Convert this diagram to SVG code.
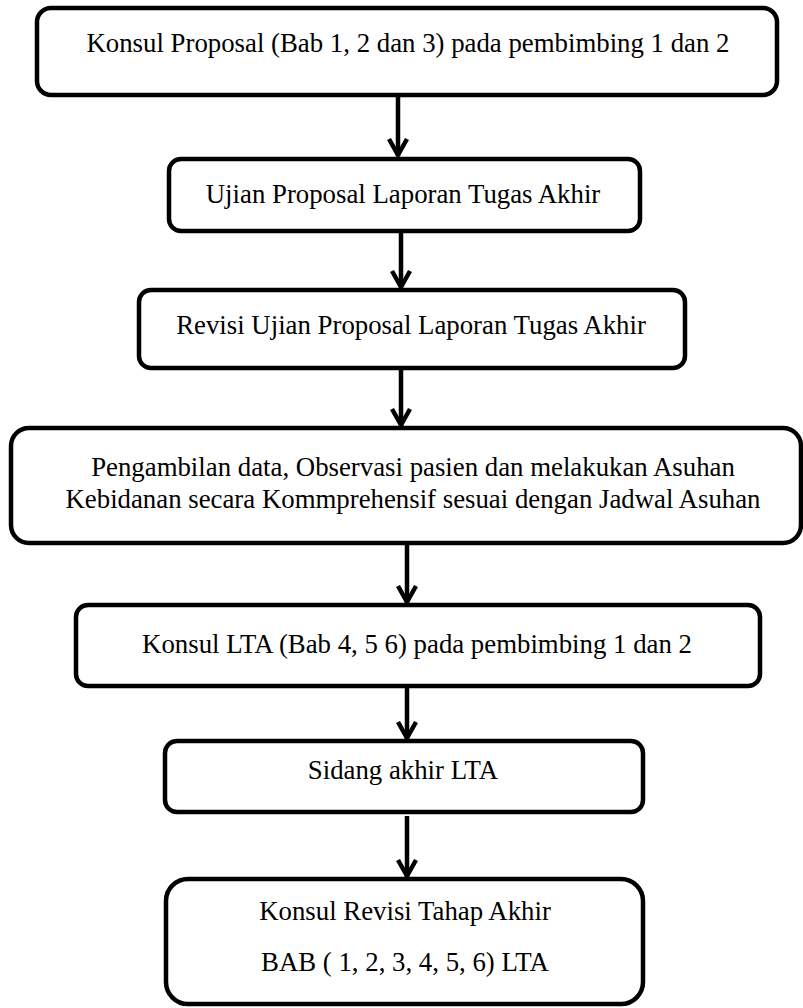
<svg xmlns="http://www.w3.org/2000/svg" width="803" height="1008" viewBox="0 0 803 1008">
<style>
.box{fill:#fff;stroke:#000;stroke-width:4.5}
.t{font-family:'Liberation Serif','Times New Roman',serif;font-size:26.8px;fill:#000;text-anchor:middle}
.c{stroke:#000;stroke-width:4.5;fill:none}
</style>
<defs>
<marker id="ah" markerUnits="userSpaceOnUse" viewBox="-22 -12 26 24" refX="0" refY="0" markerWidth="26" markerHeight="24" orient="auto" overflow="visible">
<path d="M-17,-9 L-1,0 L-17,9" fill="none" stroke="#000" stroke-width="4.5"/>
</marker>
</defs>
<rect width="803" height="1008" fill="#fff"/>
<g id="connectors">
<path class="c" d="M398,97 V156" marker-end="url(#ah)"/>
<path class="c" d="M401,231 V288" marker-end="url(#ah)"/>
<path class="c" d="M401,369 V426" marker-end="url(#ah)"/>
<path class="c" d="M407,545 V603" marker-end="url(#ah)"/>
<path class="c" d="M407,684 V739" marker-end="url(#ah)"/>
<path class="c" d="M407,816 V877" marker-end="url(#ah)"/>
</g>
<g id="n1"><rect class="box" x="37" y="8" width="740" height="87" rx="14"/><text class="t" x="408" y="52">Konsul Proposal (Bab 1, 2 dan 3) pada pembimbing 1 dan 2</text></g>
<g id="n2"><rect class="box" x="169" y="159" width="471" height="72" rx="12"/><text class="t" x="403" y="203">Ujian Proposal Laporan Tugas Akhir</text></g>
<g id="n3"><rect class="box" x="139" y="290" width="546" height="78" rx="12"/><text class="t" x="411" y="334">Revisi Ujian Proposal Laporan Tugas Akhir</text></g>
<g id="n4"><rect class="box" x="11" y="428" width="790" height="115" rx="18"/><text class="t" x="413" y="476">Pengambilan data, Observasi pasien dan melakukan Asuhan</text><text class="t" x="413" y="508">Kebidanan secara Kommprehensif sesuai dengan Jadwal Asuhan</text></g>
<g id="n5"><rect class="box" x="76" y="605" width="684" height="81" rx="12"/><text class="t" x="417" y="653">Konsul LTA (Bab 4, 5 6) pada pembimbing 1 dan 2</text></g>
<g id="n6"><rect class="box" x="165" y="741" width="478" height="71" rx="12"/><text class="t" x="403" y="779">Sidang akhir LTA</text></g>
<g id="n7"><rect class="box" x="166" y="879" width="477" height="125" rx="22"/><text class="t" x="405" y="920">Konsul Revisi Tahap Akhir</text><text class="t" x="405" y="971">BAB ( 1, 2, 3, 4, 5, 6) LTA</text></g>
</svg>
